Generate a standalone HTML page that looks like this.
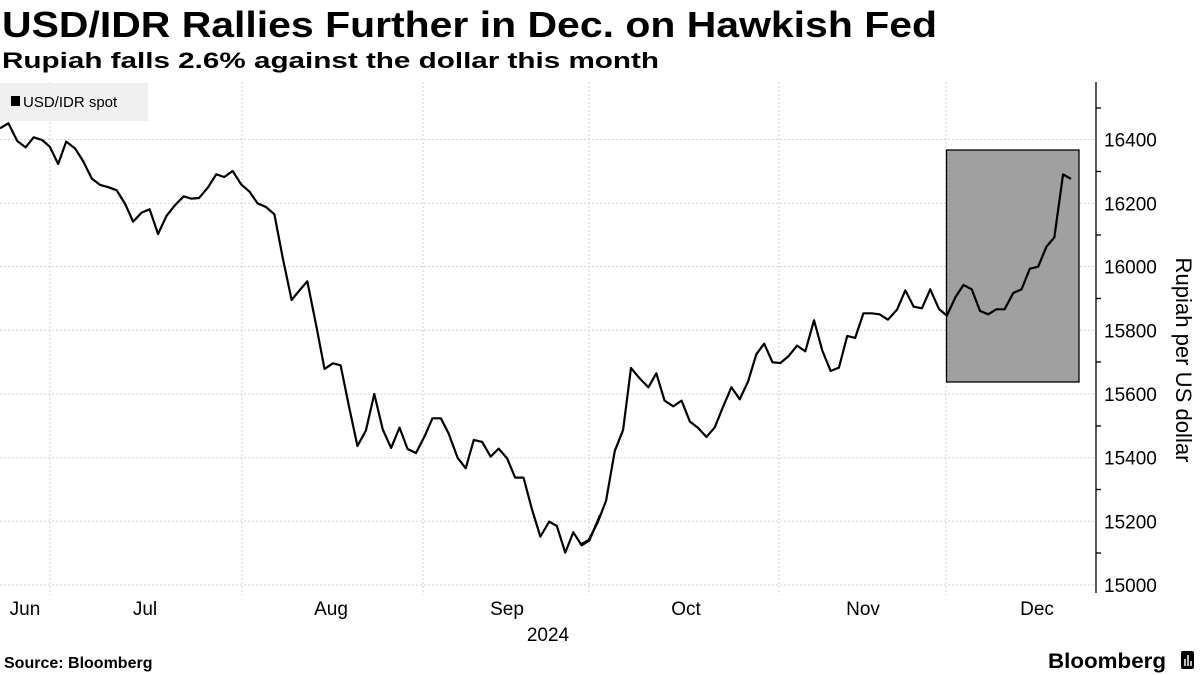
<!DOCTYPE html>
<html><head><meta charset="utf-8"><style>
html,body{margin:0;padding:0;background:#fff;}
svg{display:block;font-family:"Liberation Sans",sans-serif;}
</style></head><body>
<svg width="1200" height="675" viewBox="0 0 1200 675" xmlns="http://www.w3.org/2000/svg">
<text x="2" y="37" font-size="36" font-weight="bold" textLength="935" lengthAdjust="spacingAndGlyphs">USD/IDR Rallies Further in Dec. on Hawkish Fed</text>
<text x="2" y="68" font-size="22" font-weight="bold" textLength="657" lengthAdjust="spacingAndGlyphs">Rupiah falls 2.6% against the dollar this month</text>
<g stroke="#d2d2d2" stroke-width="1" stroke-dasharray="2,2">
<line x1="0" y1="139.5" x2="1095" y2="139.5"/><line x1="0" y1="203.3" x2="1095" y2="203.3"/>
<line x1="0" y1="266.5" x2="1095" y2="266.5"/><line x1="0" y1="330.3" x2="1095" y2="330.3"/>
<line x1="0" y1="394" x2="1095" y2="394"/><line x1="0" y1="457.7" x2="1095" y2="457.7"/>
<line x1="0" y1="521.3" x2="1095" y2="521.3"/><line x1="0" y1="585" x2="1095" y2="585"/>
<line x1="50" y1="82" x2="50" y2="595"/><line x1="242" y1="82" x2="242" y2="595"/>
<line x1="423" y1="82" x2="423" y2="595"/><line x1="589" y1="82" x2="589" y2="595"/>
<line x1="779" y1="82" x2="779" y2="595"/><line x1="946" y1="82" x2="946" y2="595"/>
</g>
<rect x="0" y="83" width="148" height="38" fill="#f0f0f0"/>
<rect x="11" y="96" width="9" height="10" fill="#000"/>
<text x="23" y="107" font-size="15">USD/IDR spot</text>
<rect x="946.5" y="150" width="132.5" height="232" fill="#a0a0a0" stroke="#000" stroke-width="1.3"/>
<g fill="none" stroke="#000" stroke-width="2.2" stroke-linejoin="round">
<polyline vector-effect="non-scaling-stroke" transform="translate(0,80) scale(0.3827,0.3333)" points="0,145 22,130 45,183 67,202 88,172 110,180 130,200 152,252 173,185 196,205 217,243 240,296 262,315 284,322 305,331 327,372 348,425 370,398 391,388 413,462 435,408 457,376 480,349 500,356 520,354 543,323 565,283 586,291 608,273 630,313 652,335 673,370 695,381 717,403 739,535 762,660 782,632 803,604 826,735 848,867 870,850 890,856 912,980 934,1098 956,1052 978,942 1000,1048 1022,1104 1044,1043 1065,1107 1087,1119 1109,1070 1130,1015 1152,1015 1172,1060 1196,1134 1217,1165 1238,1080 1260,1086 1282,1130 1303,1106 1325,1135 1346,1193 1368,1193 1390,1288 1412,1370 1435,1325 1455,1338 1477,1418 1498,1357 1520,1396 1540,1382 1568,1305"/>
<polyline vector-effect="non-scaling-stroke" transform="translate(580,80) scale(0.3953,0.3333)" points="0,1395 22,1380 45,1327 66,1262 88,1113 109,1050 129,864 150,894 173,922 193,880 214,962 236,979 257,962 278,1025 298,1043 320,1071 341,1042 362,980 383,922 404,958 425,905 446,823 466,791 487,847 507,849 528,828 549,797 570,814 592,721 613,812 634,873 655,863 676,768 696,774 717,700 738,700 758,703 779,719 802,689 823,631 844,680 865,685 886,628 908,687 928,707 950,651 970,615 991,628 1012,693 1033,703 1053,688 1074,688 1096,639 1117,628 1138,566 1159,560 1180,500 1200,472 1222,283 1242,297"/>
</g>
<line x1="1096" y1="82" x2="1096" y2="593" stroke="#000" stroke-width="1.3"/>
<g stroke="#000" stroke-width="1.3">
<line x1="1096" y1="108" x2="1101" y2="108"/><line x1="1096" y1="171.5" x2="1101" y2="171.5"/>
<line x1="1096" y1="235" x2="1101" y2="235"/><line x1="1096" y1="298.5" x2="1101" y2="298.5"/>
<line x1="1096" y1="362" x2="1101" y2="362"/><line x1="1096" y1="426" x2="1101" y2="426"/>
<line x1="1096" y1="489.5" x2="1101" y2="489.5"/><line x1="1096" y1="553" x2="1101" y2="553"/>
</g>
<g font-size="19">
<text x="1104" y="146.5">16400</text><text x="1104" y="210.3">16200</text>
<text x="1104" y="273.5">16000</text><text x="1104" y="337.3">15800</text>
<text x="1104" y="401">15600</text><text x="1104" y="464.7">15400</text>
<text x="1104" y="528.3">15200</text><text x="1104" y="592">15000</text>
</g>
<text transform="translate(1176,360) rotate(90)" font-size="22" text-anchor="middle" textLength="205" lengthAdjust="spacingAndGlyphs">Rupiah per US dollar</text>
<g font-size="19" text-anchor="middle">
<text x="25" y="615">Jun</text><text x="145" y="615">Jul</text><text x="331" y="615">Aug</text>
<text x="507" y="615">Sep</text><text x="686" y="615">Oct</text><text x="863" y="615">Nov</text>
<text x="1037" y="615">Dec</text><text x="548" y="641">2024</text>
</g>
<text x="4" y="668" font-size="16" font-weight="bold">Source: Bloomberg</text>
<text x="1048" y="668" font-size="21" font-weight="bold" textLength="118" lengthAdjust="spacingAndGlyphs">Bloomberg</text>
<rect x="1181" y="651" width="13" height="18" rx="2" fill="#000"/>
<g stroke="#fff" stroke-width="1.5"><line x1="1185" y1="659" x2="1185" y2="666"/><line x1="1188" y1="655" x2="1188" y2="666"/><line x1="1191" y1="661" x2="1191" y2="666"/></g>
</svg>
</body></html>
